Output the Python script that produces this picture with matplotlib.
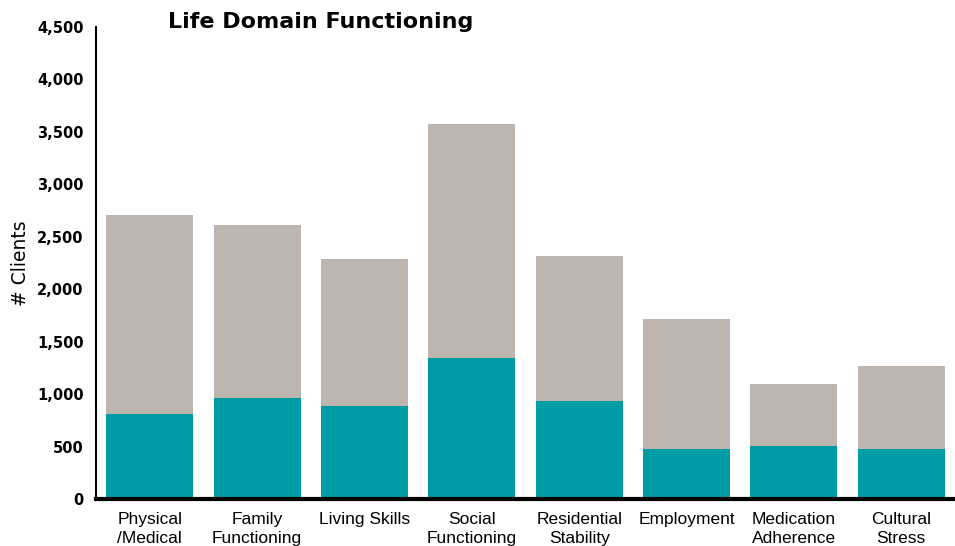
import matplotlib
matplotlib.use("Agg")
import matplotlib.pyplot as plt
from matplotlib.ticker import FuncFormatter, MultipleLocator

categories = ["Physical\n/Medical", "Family\nFunctioning", "Living Skills", "Social\nFunctioning",
              "Residential\nStability", "Employment", "Medication\nAdherence", "Cultural\nStress"]
teal_values = [810, 965, 890, 1345, 935, 480, 505, 480]
total_values = [2710, 2615, 2290, 3580, 2320, 1720, 1100, 1270]
grey_values = [t - b for t, b in zip(total_values, teal_values)]

teal = "#009CA6"
grey = "#BFB5AF"

fig = plt.figure(figsize=(9.55, 5.46), dpi=100)
ax = fig.add_axes([0.1005, 0.0861, 0.8995, 0.8644])

x = list(range(len(categories)))
ax.bar(x, teal_values, width=0.81, color=teal, zorder=2)
ax.bar(x, grey_values, width=0.81, bottom=teal_values, color=grey, zorder=2)

ax.set_xlim(-0.5, 7.5)
ax.set_ylim(0, 4500)
ax.yaxis.set_major_locator(MultipleLocator(500))
ax.yaxis.set_major_formatter(FuncFormatter(lambda v, p: f"{int(v):,}"))

for s in ["top", "right"]:
    ax.spines[s].set_visible(False)
ax.spines["left"].set_linewidth(1.5)
ax.spines["bottom"].set_linewidth(3)
ax.spines["bottom"].set_zorder(3)

ax.tick_params(axis="both", length=0)
ax.tick_params(axis="y", pad=9)
for lbl in ax.get_yticklabels():
    lbl.set_family("DejaVu Sans")
    lbl.set_fontweight("bold")
    lbl.set_fontsize(10.5)

ax.set_xticks(x)
ax.set_xticklabels(categories, fontsize=12.5, family=["Liberation Sans", "DejaVu Sans"],
                   linespacing=1.35)
ax.tick_params(axis="x", pad=9.5)

ax.set_ylabel("# Clients", fontsize=13.5, family="DejaVu Sans", labelpad=5)

fig.text(168 / 955, 1 - 22 / 546, "Life Domain Functioning", fontsize=16, fontweight="bold",
         family="DejaVu Sans", ha="left", va="center")

fig.savefig("out.png", dpi=100)
